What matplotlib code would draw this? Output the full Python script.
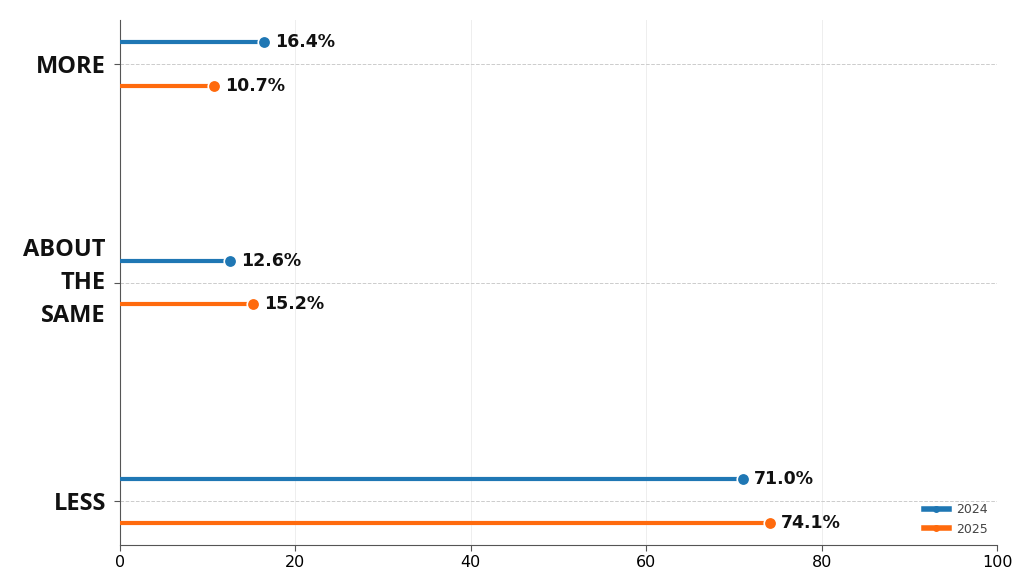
import numpy as np
import matplotlib
matplotlib.use('Agg')
import matplotlib.pyplot as plt
from matplotlib.lines import Line2D

categories = ["MORE", "ABOUT\nTHE\nSAME", "LESS"]
years = ["2024", "2025"]
values_2024 = [16.4, 12.6, 71.0]
values_2025 = [10.7, 15.2, 74.1]

colors = {"2024": "#1f77b4", "2025": "#ff6a0d"}
offsets = {"2024": -0.1, "2025": 0.1}

fig, ax = plt.subplots(figsize=(10.24, 5.76), dpi=100)

ypos = np.arange(len(categories))
for year, vals in zip(years, [values_2024, values_2025]):
    y = ypos + offsets[year]
    ax.hlines(y, 0, vals, color=colors[year], linewidth=3, zorder=3)
    ax.plot(vals, y, 'o', color=colors[year], markersize=9, markeredgecolor='white',
            markeredgewidth=1.2, zorder=4, linestyle='None')
    for v, yy in zip(vals, y):
        ax.annotate(f"{v:.1f}%", (v, yy), xytext=(8, 0), textcoords='offset points',
                    va='center', ha='left', fontsize=12.5, fontweight='bold',
                    color='#111111', zorder=5)

ax.set_xlim(0, 100)
ax.set_ylim(2.2, -0.2)
ax.set_yticks(ypos)
labels = ax.set_yticklabels(categories, fontsize=17, fontweight='bold', family='Open Sans',
                            linespacing=1.5, color='#111111')
for lab in labels:
    if "\n" in lab.get_text():
        lab.set_va('center')
ax.tick_params(axis='y', pad=6, length=4, color='#555555')
ax.tick_params(axis='x', labelsize=11.5, length=4, color='#555555')
ax.spines['top'].set_visible(False)
ax.spines['right'].set_visible(False)
ax.spines['left'].set_color('#555555')
ax.spines['bottom'].set_color('#555555')

ax.grid(axis='y', linestyle='--', color='#cccccc', linewidth=0.7)
ax.grid(axis='x', linestyle='-', color='#eeeeee', linewidth=0.7)
ax.set_axisbelow(True)

handles = [Line2D([0], [0], color=colors[y], linewidth=4, marker='o', markersize=4) for y in years]
leg = ax.legend(handles, years, loc='lower right', frameon=False, fontsize=9,
                handlelength=2.0, handletextpad=0.6, borderaxespad=0.35, labelspacing=0.5)
for t in leg.get_texts():
    t.set_color('#444444')

plt.subplots_adjust(left=0.117, right=0.974, top=0.965, bottom=0.054)
plt.savefig("out.png", dpi=100)
